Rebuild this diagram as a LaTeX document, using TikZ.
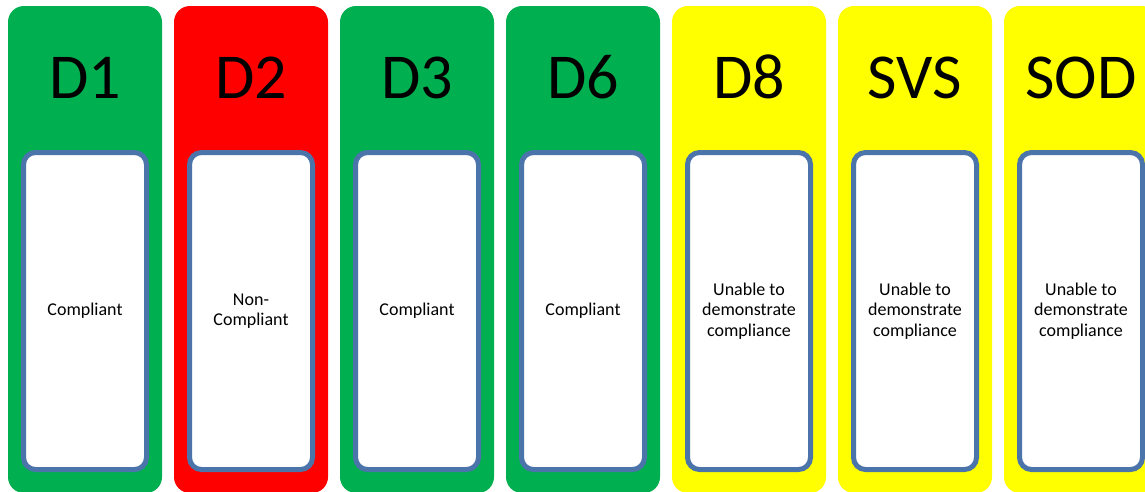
\documentclass[tikz,border=0pt]{standalone}
\usepackage{fontspec}
\setmainfont{Carlito}
\definecolor{passgreen}{HTML}{00B050}
\definecolor{failred}{HTML}{FF0000}
\definecolor{warnyellow}{HTML}{FFFF00}
\definecolor{boxblue}{HTML}{4A74AA}

\begin{document}
\begin{tikzpicture}[x=1pt, y=-1pt,
    lane/.style={rounded corners=16pt, minimum width=154pt, minimum height=487pt, inner sep=0pt, outer sep=0pt},
    head/.style={font=\fontsize{64}{78}\selectfont, anchor=base, inner sep=0pt},
    verdict/.style={draw=boxblue, line width=5pt, fill=white, rounded corners=12pt, minimum width=123pt, minimum height=317pt, align=center, inner sep=0pt, font=\fontsize{18}{20.5}\selectfont}]
    \useasboundingbox (0,0) rectangle (1145,491);
    \clip (0,0) rectangle (1145,491);
    \foreach \i/\name/\col/\txt in {0/D1/passgreen/Compliant, 1/D2/failred/{Non-\\Compliant}, 2/D3/passgreen/Compliant, 3/D6/passgreen/Compliant, 4/D8/warnyellow/{Unable to\\demonstrate\\compliance}, 5/SVS/warnyellow/{Unable to\\demonstrate\\compliance}, 6/SOD/warnyellow/{Unable to\\demonstrate\\compliance}}
    {
      \node [lane, fill=\col] (lane\name) at (85+166*\i, 249.5) {};
      \node [head] (head\name) at (85+166*\i, 98) {\name};
      \node [verdict] (box\name) at (85+166*\i, 311) {\txt};
    }
  \end{tikzpicture}
\end{document}
